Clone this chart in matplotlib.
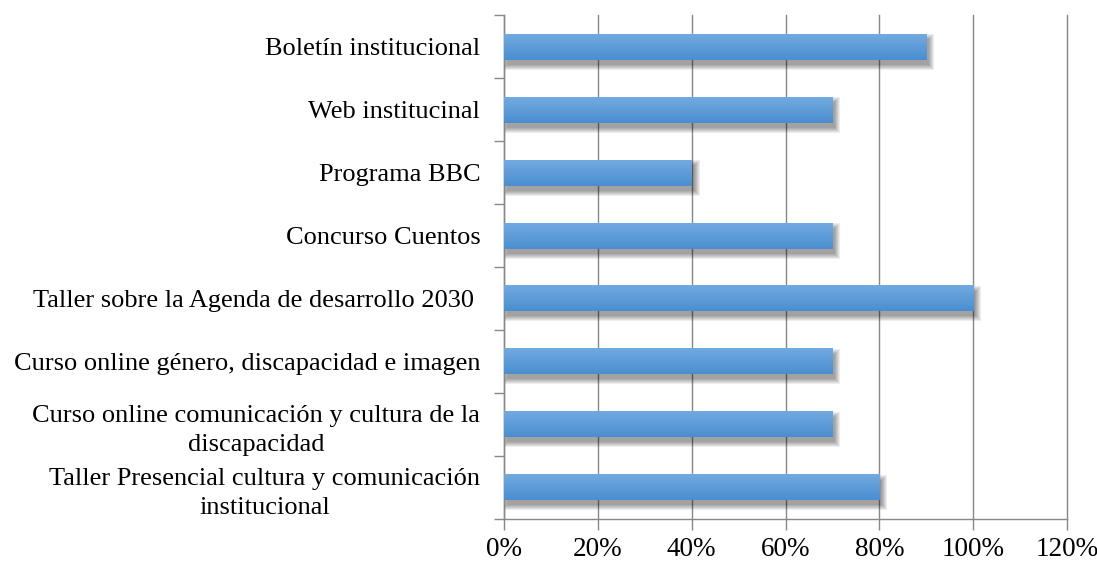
import matplotlib
matplotlib.use("Agg")
import matplotlib.pyplot as plt
import numpy as np
from matplotlib.colors import LinearSegmentedColormap
from matplotlib.patches import Rectangle

# data, bottom to top as drawn
categories = [
    "Taller Presencial cultura y comunicación\ninstitucional",
    "Curso online comunicación y cultura de la\ndiscapacidad",
    "Curso online género, discapacidad e imagen",
    "Taller sobre la Agenda de desarrollo 2030 ",
    "Concurso Cuentos",
    "Programa BBC",
    "Web institucinal",
    "Boletín institucional",
]
values = [0.80, 0.70, 0.70, 1.00, 0.70, 0.40, 0.70, 0.90]
xticks = [0, 0.2, 0.4, 0.6, 0.8, 1.0, 1.2]
xticklabels = ["0%", "20%", "40%", "60%", "80%", "100%", "120%"]

plt.rcParams['font.family'] = ['Liberation Serif', 'DejaVu Serif']

fig = plt.figure(figsize=(10.97, 5.61), dpi=100)
ax = fig.add_axes([0.4594, 0.0749, 0.5133, 0.898])

n = len(categories)
bar_h = 0.41
grad = LinearSegmentedColormap.from_list("bar", ["#4a8ed0", "#72aae0"])
g = np.linspace(0, 1, 64).reshape(-1, 1)

# pixel size in data units (for the soft shadow)
px = 1.2 / 563.0
py = n / 504.0

for i, v in enumerate(values):
    y0 = i - bar_h / 2
    # blurred drop shadow, offset down-right
    for e in range(5, -1, -1):
        ax.add_patch(Rectangle((3 * px - e * px, y0 - 5 * py - e * py),
                               v + 2 * e * px, bar_h + 2 * e * py,
                               facecolor="black", alpha=0.07, edgecolor="none",
                               zorder=2))
    ax.imshow(g, cmap=grad, aspect="auto", origin="lower",
              extent=(0, v, y0, y0 + bar_h), zorder=3)

ax.set_xlim(0, 1.2)
ax.set_ylim(-0.5, n - 0.5)

ax.set_xticks(xticks)
ax.set_xticklabels(xticklabels, fontsize=19.5)
ax.tick_params(axis="x", length=8, color="#888888", width=1, pad=5)
ax.xaxis.grid(True, color="#888888", linewidth=1)
for line in ax.get_xgridlines():
    line.set_clip_on(False)
ax.set_axisbelow(True)

ax.set_yticks(range(n))
ax.set_yticklabels(categories, fontsize=19, multialignment="center",
                   linespacing=1.4)
ax.tick_params(axis="y", which="major", length=0, pad=17)
ax.set_yticks(np.arange(-0.5, n, 1.0), minor=True)
ax.tick_params(axis="y", which="minor", length=7, color="#888888", width=1)

for s in ["top", "right"]:
    ax.spines[s].set_visible(False)
for s in ["left", "bottom"]:
    ax.spines[s].set_color("#888888")
    ax.spines[s].set_linewidth(1)

fig.savefig("out.png", dpi=100)
